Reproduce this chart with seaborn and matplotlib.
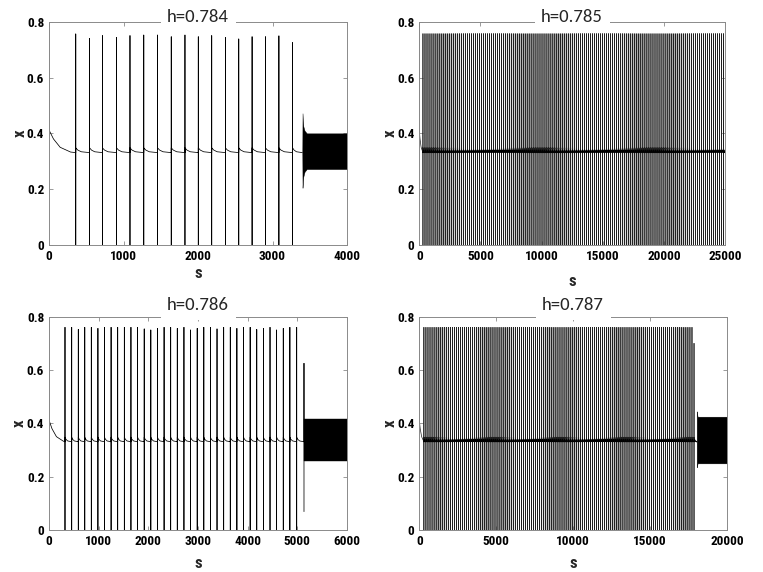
import numpy as np
import matplotlib
matplotlib.use('Agg')
import matplotlib.pyplot as plt
import seaborn as sns

# values
titles = ['h=0.784', 'h=0.785', 'h=0.786', 'h=0.787']
x_max = [4000, 25000, 6000, 20000]
x_ticks = [[0, 1000, 2000, 3000, 4000],
           [0, 5000, 10000, 15000, 20000, 25000],
           [0, 1000, 2000, 3000, 4000, 5000, 6000],
           [0, 5000, 10000, 15000, 20000]]
y_ticks = [0, 0.2, 0.4, 0.6, 0.8]
y_tick_labels = ['0', '0.2', '0.4', '0.6', '0.8']

# start of every run: fast drop from the initial value, slow settle to the baseline
start_s = [0, 4, 60, 150, 290]
start_x = [0.80, 0.41, 0.38, 0.35, 0.333]

# trace between two spikes (fraction of the interval -> x)
after_frac = [0.0, 0.15, 0.4, 1.0]
after_x = [0.348, 0.340, 0.334, 0.331]
spike_low = -0.01

# h=0.784
spikes_784 = [359, 545, 717, 906, 1087, 1272, 1457, 1641, 1825, 2004,
              2184, 2368, 2547, 2726, 2905, 3086, 3270]
peaks_784 = [0.756, 0.740, 0.750, 0.744, 0.750, 0.752, 0.752, 0.746, 0.752, 0.746,
             0.750, 0.743, 0.738, 0.746, 0.746, 0.749, 0.725]
end_784 = 3400
band_784_s = [3400, 3403, 3408, 3414, 3430, 3460, 4000]
band_784_hi = [0.333, 0.472, 0.44, 0.425, 0.41, 0.400, 0.400]
band_784_lo = [0.333, 0.205, 0.23, 0.245, 0.262, 0.272, 0.272]

# h=0.785 (stripes too dense to read one by one: first, last and spacing)
first_785, last_785, period_785 = 300, 24950, 165
peak_785 = 0.757

# h=0.786
spikes_786 = [322, 457, 590, 720, 852, 985, 1117, 1250, 1383, 1517,
              1650, 1783, 1917, 2050, 2183, 2317, 2450, 2583, 2717, 2850,
              2984, 3117, 3250, 3383, 3517, 3650, 3783, 3917, 4050, 4183,
              4317, 4450, 4583, 4717, 4850, 4987]
peaks_786 = [0.760, 0.760, 0.752, 0.760, 0.760, 0.756, 0.760, 0.760, 0.760, 0.760,
             0.760, 0.760, 0.754, 0.750, 0.756, 0.760, 0.760, 0.756, 0.760, 0.750,
             0.756, 0.760, 0.760, 0.754, 0.760, 0.760, 0.756, 0.760, 0.760, 0.752,
             0.756, 0.760, 0.750, 0.756, 0.760, 0.760]
lone_786 = [5134, 0.625, 0.069]
band_786_s = [5138, 6000]
band_786_hi = [0.416, 0.416]
band_786_lo = [0.259, 0.259]

# h=0.787
first_787, last_787, period_787 = 300, 17922, 132
peak_787, last_peak_787 = 0.760, 0.700
band_787_s = [18030, 18045, 18090, 20000]
band_787_hi = [0.445, 0.440, 0.425, 0.425]
band_787_lo = [0.235, 0.238, 0.250, 0.250]


def trace(spikes, peaks, end):
    s = list(start_s)
    x = list(start_x)
    nxt = list(spikes[1:]) + [end]
    s.append(spikes[0])
    x.append(after_x[-1])
    for t, p, t2 in zip(spikes, peaks, nxt):
        s += [t, t]
        x += [p, spike_low]
        for f, v in zip(after_frac, after_x):
            s.append(t + f * (t2 - t))
            x.append(v)
    return np.array(s), np.array(x)


def baseline(s, x):
    # the part of the trace between spikes, without the first post-spike bump
    keep = (x > 0.3) & (x < 0.345) & (s > 250)
    return s[keep], x[keep]


sns.set_style('ticks')
plt.rcParams.update({
    'font.family': ['Roboto Condensed', 'Liberation Sans', 'DejaVu Sans'],
    'font.weight': 'bold',
    'axes.edgecolor': '#8a8a8a',
    'axes.linewidth': 0.7,
    'xtick.color': '#8a8a8a',
    'ytick.color': '#8a8a8a',
    'xtick.labelcolor': 'black',
    'ytick.labelcolor': 'black',
    'xtick.direction': 'in',
    'ytick.direction': 'in',
    'xtick.top': True,
    'ytick.right': True,
    'xtick.major.size': 3,
    'ytick.major.size': 3,
    'xtick.major.width': 0.6,
    'ytick.major.width': 0.6,
})

fig = plt.figure(figsize=(7.63, 5.72), dpi=100)
boxes = [[49, 21.7, 298, 223.3], [419.3, 21.7, 305.7, 223.3],
         [49, 316.7, 298, 213.3], [419.3, 316.7, 307.7, 213.3]]
axes = []
for l, t, w, h in boxes:
    axes.append(fig.add_axes([l / 763, 1 - (t + h) / 572, w / 763, h / 572]))

# h=0.784
s, x = trace(spikes_784, peaks_784, end_784)
sns.lineplot(x=s, y=x, ax=axes[0], color='black', linewidth=0.55, sort=False, estimator=None)
axes[0].fill_between(band_784_s, band_784_lo, band_784_hi, color='black', lw=0.3)

# h=0.785
sp = list(np.arange(first_785, last_785 + 1, period_785))
s, x = trace(sp, [peak_785] * len(sp), x_max[1])
sns.lineplot(x=s, y=x, ax=axes[1], color='#202020', linewidth=0.5, sort=False, estimator=None)
bs, bx = baseline(s, x)
sns.lineplot(x=bs, y=bx, ax=axes[1], color='black', linewidth=0.9, sort=False, estimator=None)

# h=0.786
s, x = trace(spikes_786, peaks_786, lone_786[0])
s = np.append(s, [lone_786[0]] * 2)
x = np.append(x, lone_786[1:])
sns.lineplot(x=s, y=x, ax=axes[2], color='black', linewidth=0.55, sort=False, estimator=None)
axes[2].fill_between(band_786_s, band_786_lo, band_786_hi, color='black', lw=0.3)

# h=0.787
sp = list(np.arange(first_787, last_787 + 1, period_787))
pk = [peak_787] * (len(sp) - 1) + [last_peak_787]
s, x = trace(sp, pk, band_787_s[0])
sns.lineplot(x=s, y=x, ax=axes[3], color='#202020', linewidth=0.5, sort=False, estimator=None)
bs, bx = baseline(s, x)
sns.lineplot(x=bs, y=bx, ax=axes[3], color='black', linewidth=0.9, sort=False, estimator=None)
axes[3].fill_between(band_787_s, band_787_lo, band_787_hi, color='black', lw=0.3)

title_y = [1.023, 1.023, 1.055, 1.055]
xlab_y = [-0.127, -0.164, -0.159, -0.156]
ylab_x = [-0.097, -0.095, -0.101, -0.096]
for i, ax in enumerate(axes):
    ax.set_xlim(0, x_max[i])
    ax.set_ylim(0, 0.8)
    ax.set_xticks(x_ticks[i])
    ax.set_xticklabels([str(v) for v in x_ticks[i]])
    ax.set_yticks(y_ticks)
    ax.set_yticklabels(y_tick_labels)
    ax.tick_params(labelsize=9.5, pad=3.5)
    for sp_ in ax.spines.values():
        sp_.set_visible(True)
    ax.set_xlabel('s', fontsize=12, fontweight='bold')
    ax.set_ylabel('x', fontsize=12, fontweight='bold')
    ax.xaxis.set_label_coords(0.5, xlab_y[i])
    ax.yaxis.set_label_coords(ylab_x[i], 0.5)
    ax.xaxis.label.set_verticalalignment('center')
    ax.yaxis.label.set_verticalalignment('center')
    ax.text(0.5, title_y[i], titles[i], transform=ax.transAxes, ha='center', va='center',
            fontsize=13.5, family=['Carlito', 'Lato'], fontweight='normal', zorder=5,
            bbox=dict(facecolor='white', edgecolor='none', boxstyle='square,pad=0.35'))

fig.savefig('out.png', dpi=100)
